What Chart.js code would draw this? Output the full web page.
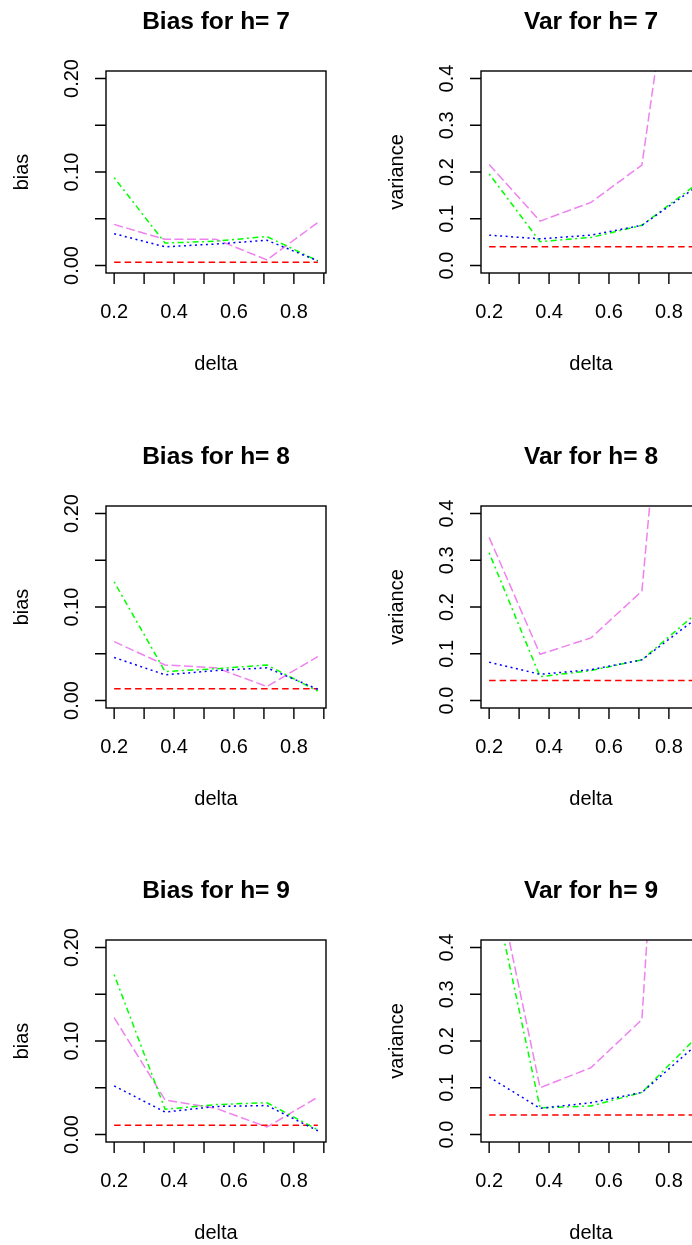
<!DOCTYPE html>
<html>
<head>
<meta charset="utf-8">
<script src="https://cdn.jsdelivr.net/npm/chart.js@4.4.0/dist/chart.umd.min.js"></script>
<style>
html, body { margin: 0; padding: 0; background: #fff; overflow: hidden; width: 692px; height: 1245px; }
canvas { position: absolute; }
</style>
</head>
<body>
<script>
const deltas = [0.2, 0.37, 0.54, 0.71, 0.88];
const hValues = [7, 8, 9];

// one row per h (7, 8, 9), one value per delta
const biasRed    = [[0.0035, 0.0035, 0.0035, 0.0035, 0.0035], [0.0125, 0.0125, 0.0125, 0.0125, 0.0125], [0.010, 0.010, 0.010, 0.010, 0.010]];
const biasGreen  = [[0.094, 0.024, 0.026, 0.031, 0.005], [0.127, 0.031, 0.034, 0.038, 0.010], [0.171, 0.027, 0.032, 0.034, 0.005]];
const biasBlue   = [[0.034, 0.020, 0.023, 0.027, 0.005], [0.046, 0.0275, 0.032, 0.035, 0.012], [0.052, 0.024, 0.030, 0.031, 0.004]];
const biasViolet = [[0.044, 0.028, 0.028, 0.006, 0.046], [0.063, 0.038, 0.035, 0.015, 0.047], [0.125, 0.037, 0.028, 0.008, 0.040]];

const varRed    = [[0.040, 0.040, 0.040, 0.040, 0.040], [0.043, 0.043, 0.043, 0.043, 0.043], [0.042, 0.042, 0.042, 0.042, 0.042]];
const varGreen  = [[0.196, 0.051, 0.060, 0.086, 0.168], [0.316, 0.051, 0.064, 0.087, 0.180], [0.565, 0.057, 0.061, 0.090, 0.200]];
const varBlue   = [[0.065, 0.057, 0.065, 0.086, 0.163], [0.082, 0.056, 0.066, 0.087, 0.170], [0.123, 0.056, 0.068, 0.090, 0.185]];
const varViolet = [[0.216, 0.095, 0.135, 0.215, 0.98], [0.349, 0.099, 0.134, 0.234, 1.44], [0.621, 0.100, 0.143, 0.246, 1.98]];

const deltaTicks = [0.2, 0.3, 0.4, 0.5, 0.6, 0.7, 0.8, 0.9];
const deltaTickLabels = ['0.2', '', '0.4', '', '0.6', '', '0.8', ''];
const biasTicks = [0, 0.05, 0.10, 0.15, 0.20];
const biasTickLabels = ['0.00', '', '0.10', '', '0.20'];
const varTicks = [0, 0.1, 0.2, 0.3, 0.4];
const varTickLabels = ['0.0', '0.1', '0.2', '0.3', '0.4'];

const FONT = '"Liberation Sans", Arial, Helvetica, sans-serif';

// R style axes: box, outward ticks, rotated y labels
const rAxes = {
	id: 'rAxes',
	afterDraw(chart, args, opts) {
		const ctx = chart.ctx;
		const a = chart.chartArea;
		const xs = chart.scales.x;
		const ys = chart.scales.y;
		const cx = (a.left + a.right) / 2;
		const cy = (a.top + a.bottom) / 2;

		ctx.save();
		ctx.strokeStyle = '#000';
		ctx.fillStyle = '#000';
		ctx.lineWidth = 1.4;
		ctx.strokeRect(a.left, a.top, a.right - a.left, a.bottom - a.top);

		ctx.beginPath();
		deltaTicks.forEach(v => {
			const px = xs.getPixelForValue(v);
			ctx.moveTo(px, a.bottom);
			ctx.lineTo(px, a.bottom + 11);
		});
		opts.yTicks.forEach(v => {
			const py = ys.getPixelForValue(v);
			ctx.moveTo(a.left, py);
			ctx.lineTo(a.left - 11, py);
		});
		ctx.stroke();

		ctx.font = '20px ' + FONT;
		ctx.textAlign = 'center';
		ctx.textBaseline = 'alphabetic';
		deltaTicks.forEach((v, i) => {
			if (deltaTickLabels[i])
				ctx.fillText(deltaTickLabels[i], xs.getPixelForValue(v), a.bottom + 45);
		});
		ctx.fillText('delta', cx, a.bottom + 97);

		opts.yTicks.forEach((v, i) => {
			if (!opts.yLabels[i]) return;
			ctx.save();
			ctx.translate(a.left - 28, ys.getPixelForValue(v));
			ctx.rotate(-Math.PI / 2);
			ctx.fillText(opts.yLabels[i], 0, 0);
			ctx.restore();
		});
		ctx.save();
		ctx.translate(a.left - 78, cy);
		ctx.rotate(-Math.PI / 2);
		ctx.fillText(opts.yTitle, 0, 0);
		ctx.restore();

		ctx.font = 'bold 24.5px ' + FONT;
		ctx.fillText(opts.title, cx, a.top - 42);
		ctx.restore();
	}
};

function series(values, color, dash) {
	return {
		data: deltas.map((d, i) => ({ x: d, y: values[i] })),
		borderColor: color,
		borderDash: dash,
		borderWidth: 1.5,
		pointRadius: 0,
		fill: false,
		tension: 0
	};
}

function makePanel(left, top, title, yTitle, yMax, yTicks, yLabels, red, green, blue, violet) {
	const canvas = document.createElement('canvas');
	canvas.width = 374;
	canvas.height = 435;
	canvas.style.left = left + 'px';
	canvas.style.top = top + 'px';
	document.body.appendChild(canvas);

	const pad = yMax * 0.04;
	new Chart(canvas, {
		type: 'line',
		data: {
			datasets: [
				series(blue, '#0000ff', [2, 3.5]),
				series(green, '#00ff00', [2, 3.5, 6, 3.5]),
				series(violet, '#ee82ee', [9, 3.5]),
				series(red, '#ff0000', [6.5, 4])
			]
		},
		options: {
			responsive: false,
			animation: false,
			devicePixelRatio: 1,
			layout: { padding: { left: 134, right: 20, top: 71, bottom: 162 } },
			scales: {
				x: { type: 'linear', display: false, min: 0.2 - 0.68 * 0.04, max: 0.88 + 0.68 * 0.04 },
				y: { type: 'linear', display: false, min: -pad, max: yMax + pad }
			},
			plugins: {
				legend: { display: false },
				tooltip: { enabled: false },
				rAxes: { title: title, yTitle: yTitle, yTicks: yTicks, yLabels: yLabels }
			}
		},
		plugins: [rAxes]
	});
}

const rowTops = [0, 435, 869];
hValues.forEach((h, r) => {
	makePanel(-28, rowTops[r], 'Bias for h= ' + h, 'bias', 0.2, biasTicks, biasTickLabels,
		biasRed[r], biasGreen[r], biasBlue[r], biasViolet[r]);
	makePanel(347, rowTops[r], 'Var for h= ' + h, 'variance', 0.4, varTicks, varTickLabels,
		varRed[r], varGreen[r], varBlue[r], varViolet[r]);
});
</script>
</body>
</html>
